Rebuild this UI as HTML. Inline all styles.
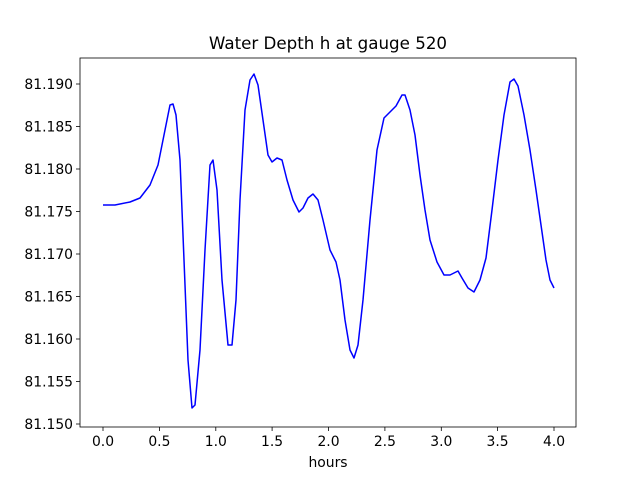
<!DOCTYPE html>
<html><head><meta charset="utf-8"><style>body{margin:0;background:#fff}svg{display:block}text{font-family:"DejaVu Sans","Liberation Sans",sans-serif;font-size:13.9px;fill:#000}</style></head><body>
<svg width="640" height="480" viewBox="0 0 640 480">
<rect width="640" height="480" fill="#fff"/>
<text x="328" y="49" text-anchor="middle" style="font-size:16.7px">Water Depth h at gauge 520</text>
<g stroke="#000" stroke-width="0.8">
<line x1="103" y1="427" x2="103" y2="431"/><line x1="159.4" y1="427" x2="159.4" y2="431"/><line x1="215.8" y1="427" x2="215.8" y2="431"/><line x1="272.1" y1="427" x2="272.1" y2="431"/><line x1="328.5" y1="427" x2="328.5" y2="431"/><line x1="384.9" y1="427" x2="384.9" y2="431"/><line x1="441.3" y1="427" x2="441.3" y2="431"/><line x1="497.6" y1="427" x2="497.6" y2="431"/><line x1="554" y1="427" x2="554" y2="431"/>
<line x1="76" y1="84" x2="80" y2="84"/><line x1="76" y1="126.5" x2="80" y2="126.5"/><line x1="76" y1="169" x2="80" y2="169"/><line x1="76" y1="211.5" x2="80" y2="211.5"/><line x1="76" y1="254" x2="80" y2="254"/><line x1="76" y1="296.5" x2="80" y2="296.5"/><line x1="76" y1="339" x2="80" y2="339"/><line x1="76" y1="381.5" x2="80" y2="381.5"/><line x1="76" y1="424" x2="80" y2="424"/>
</g>
<g text-anchor="middle">
<text x="103" y="446">0.0</text><text x="159.4" y="446">0.5</text><text x="215.8" y="446">1.0</text><text x="272.1" y="446">1.5</text><text x="328.5" y="446">2.0</text><text x="384.9" y="446">2.5</text><text x="441.3" y="446">3.0</text><text x="497.6" y="446">3.5</text><text x="554" y="446">4.0</text>
<text x="328" y="467">hours</text>
</g>
<g text-anchor="end">
<text x="73" y="89">81.190</text><text x="73" y="131.5">81.185</text><text x="73" y="174">81.180</text><text x="73" y="216.5">81.175</text><text x="73" y="259">81.170</text><text x="73" y="301.5">81.165</text><text x="73" y="344">81.160</text><text x="73" y="386.5">81.155</text><text x="73" y="429">81.150</text>
</g>
<polyline fill="none" stroke="#0000ff" stroke-width="1.5" stroke-linejoin="round" points="103,205 115,205 130,202 140,198 150,185 158,165 165,130 170,105 173,104 176,115 180,160 184,260 188,360 192,408 195,405 200,350 205,250 210,165 213,160 217,190 222,280 228,345 232,345 236,300 240,200 245,110 250,80 254,74 258,85 263,120 268,155 272,162 277,158 282,160 287,180 293,200 299,212 303,208 308,198 313,194 318,200 323,220 330,250 336,262 340,280 345,320 350,350 354,358 358,345 363,300 370,220 377,150 384,118 390,112 396,106 402,95 405,95 410,110 415,135 420,175 425,210 430,240 437,262 444,275 450,275 458,271 462,278 468,288 474,292 480,280 486,258 492,210 498,160 504,115 510,82 514,79 518,86 524,115 530,150 536,190 541,225 546,260 550,280 554,288"/>
<rect x="80" y="58" width="496" height="369" fill="none" stroke="#000" stroke-width="0.8"/>
</svg>
</body></html>
